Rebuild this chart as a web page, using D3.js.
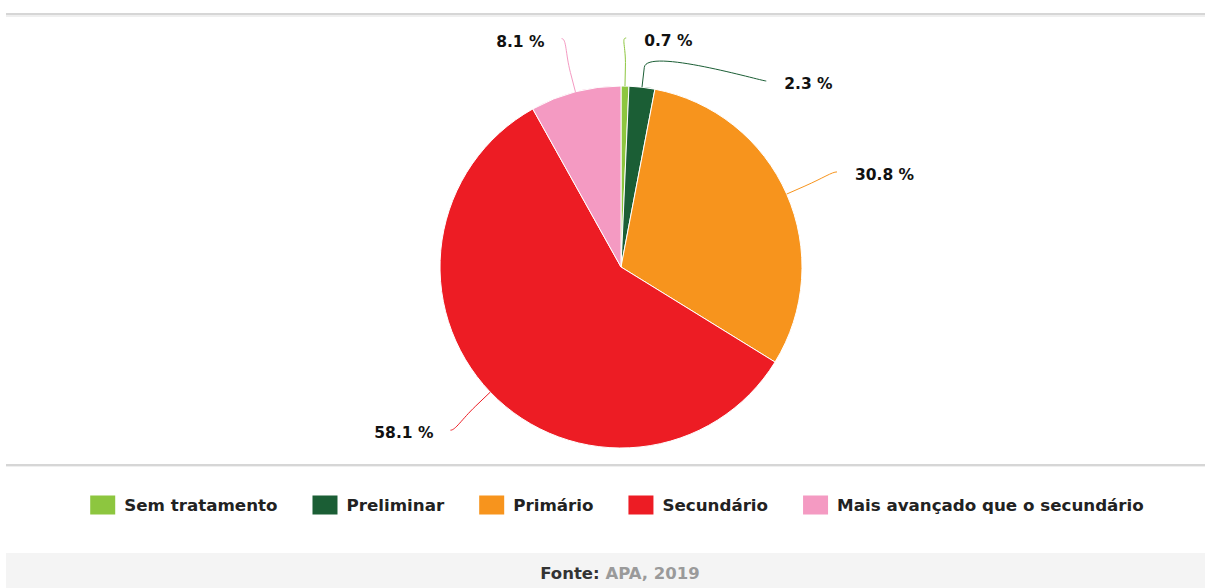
<!DOCTYPE html>
<html><head><meta charset="utf-8">
<script src="https://cdn.jsdelivr.net/npm/d3@7"></script>
<style>
body{margin:0;background:#fff}
svg{display:block}
text{font-family:"DejaVu Sans",sans-serif;font-weight:bold}
</style>
</head><body>
<svg id="c" width="1205" height="588"></svg>
<script>
const categories = ["Sem tratamento", "Preliminar", "Primário", "Secundário", "Mais avançado que o secundário"];
const values = [0.7, 2.3, 30.8, 58.1, 8.1];
const colors = ["#8dc63f", "#1b5e35", "#f7941d", "#ed1c24", "#f49ac2"];
const sourceLabel = "Fonte: ";
const sourceText = "APA, 2019";

const svg = d3.select("#c");
const W = 1205, H = 588;
const cx = 621, cy = 267, r = 181;

// frame lines
svg.append("rect").attr("x", 6).attr("y", 13).attr("width", W - 6).attr("height", 2).attr("fill", "#d6d6d6");
svg.append("rect").attr("x", 6).attr("y", 15).attr("width", W - 6).attr("height", 2).attr("fill", "#efefef");
svg.append("rect").attr("x", 6).attr("y", 464).attr("width", W - 6).attr("height", 2).attr("fill", "#d6d6d6");
svg.append("rect").attr("x", 6).attr("y", 466).attr("width", W - 6).attr("height", 1).attr("fill", "#efefef");
svg.append("rect").attr("x", 6).attr("y", 553).attr("width", W - 6).attr("height", H - 553).attr("fill", "#f4f4f4");

const pie = d3.pie().sort(null).value(d => d).startAngle(0).endAngle(2 * Math.PI);
const arcs = pie(values);
const arc = d3.arc().innerRadius(0).outerRadius(r);

const g = svg.append("g").attr("transform", `translate(${cx},${cy})`);
g.selectAll("path.slice").data(arcs).join("path")
  .attr("class", "slice")
  .attr("d", arc)
  .attr("fill", (d, i) => colors[i])
  .attr("stroke", "#fff").attr("stroke-width", 1).attr("stroke-linejoin", "round");

// label layout
const R = r + 55, stub = 20, topBound = 38, gap = 43;
const labels = arcs.map((a, i) => {
  const ang = (a.startAngle + a.endAngle) / 2;
  return {
    i, ang, right: ang < Math.PI,
    x: cx + R * Math.sin(ang), y: cy - R * Math.cos(ang),
    tx: cx + r * Math.sin(ang), ty: cy - r * Math.cos(ang),
    bx: cx + (r + stub) * Math.sin(ang), by: cy - (r + stub) * Math.cos(ang),
    moved: false
  };
});
labels.forEach(l => { if (l.y < topBound) l.y = topBound; });
[true, false].forEach(side => {
  const s = labels.filter(l => l.right === side).sort((a, b) => (a.y - b.y) || (a.i - b.i));
  for (let k = 1; k < s.length; k++) {
    if (s[k].y < s[k - 1].y + gap) {
      s[k].y = s[k - 1].y + gap;
      s[k].moved = true;
    }
  }
});
labels.forEach(l => {
  if (l.moved) {
    const dy = l.y - cy;
    l.x = cx + (l.right ? 1 : -1) * Math.sqrt(Math.max(0, R * R - dy * dy));
  }
});

const fmt = d3.format(".1f");
svg.selectAll("path.conn").data(labels).join("path")
  .attr("class", "conn")
  .attr("fill", "none")
  .attr("stroke", d => colors[d.i])
  .attr("stroke-width", 1)
  .attr("d", d => {
    const c1x = d.x + (d.right ? -5 : 5);
    return `M${d.x},${d.y} C${c1x},${d.y} ${2 * d.bx - d.tx},${2 * d.by - d.ty} ${d.bx},${d.by} L${d.tx},${d.ty}`;
  });

svg.selectAll("text.lab").data(labels).join("text")
  .attr("class", "lab")
  .attr("x", d => d.right ? d.x + 18 : d.x - 17)
  .attr("y", d => d.y + 3)
  .attr("text-anchor", d => d.right ? "start" : "end")
  .attr("dominant-baseline", "central")
  .attr("font-size", "15.5px")
  .attr("fill", "#111")
  .text(d => fmt(values[d.i]) + " %");

// legend
const legendCenter = 617, legendY = 505, sw = 25, sh = 19, textOff = 34, itemGap = 35;
const lg = svg.append("g");
const items = lg.selectAll("g").data(categories).join("g");
items.append("rect").attr("width", sw).attr("height", sh).attr("y", legendY - sh / 2)
  .attr("fill", (d, i) => colors[i]);
items.append("text").attr("x", textOff).attr("y", legendY)
  .attr("dominant-baseline", "central").attr("font-size", "16.7px").attr("fill", "#222")
  .text(d => d);
let off = 0;
const offs = [];
items.each(function () {
  offs.push(off);
  const tw = d3.select(this).select("text").node().getComputedTextLength();
  off += textOff + tw + itemGap;
});
const total = off - itemGap;
const startX = legendCenter - total / 2;
items.attr("transform", (d, i) => `translate(${startX + offs[i]},0)`);

// source
const src = svg.append("text").attr("x", 620).attr("y", 573)
  .attr("text-anchor", "middle").attr("dominant-baseline", "central").attr("font-size", "16.5px");
src.append("tspan").attr("fill", "#333").text(sourceLabel);
src.append("tspan").attr("fill", "#9a9a9a").text(sourceText);
</script>
</body></html>
